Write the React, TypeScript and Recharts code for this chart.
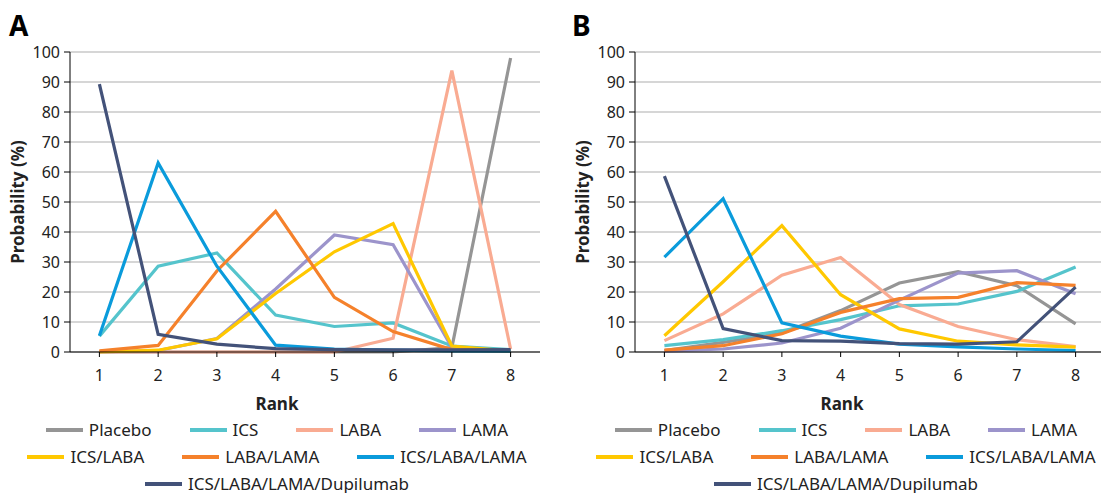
import React from "react"
import { LineChart, Line, XAxis, YAxis, CartesianGrid } from "recharts"

const ranks = ["1", "2", "3", "4", "5", "6", "7", "8"]
const yTicks = [0, 10, 20, 30, 40, 50, 60, 70, 80, 90, 100]

const seriesNames = [
  "Placebo",
  "ICS",
  "LABA",
  "LAMA",
  "ICS/LABA",
  "LABA/LAMA",
  "ICS/LABA/LAMA",
  "ICS/LABA/LAMA/Dupilumab",
]
const seriesColors = ["#959595", "#55c4cc", "#f9ab92", "#9c94cb", "#ffc800", "#f5812b", "#0a9bdb", "#435279"]

// legend rows as laid out in the figure
const legendRows = [
  ["Placebo", "ICS", "LABA", "LAMA"],
  ["ICS/LABA", "LABA/LAMA", "ICS/LABA/LAMA"],
  ["ICS/LABA/LAMA/Dupilumab"],
]

// Panel A values, per series, ranks 1..8
const placeboA = [0, 0, 0, 0, 0, 0, 1.5, 98]
const icsA = [5.3, 28.6, 33, 12.3, 8.5, 9.7, 2, 0.8]
const labaA = [0, 0, 0, 0, 0, 4.6, 93.8, 1]
const lamaA = [0, 0.5, 4.5, 21, 39, 35.8, 1.5, 0.3]
const icsLabaA = [0, 0.6, 4.4, 19.5, 33.4, 42.8, 2, 0.3]
const labaLamaA = [0.4, 2.2, 27, 46.9, 18.2, 6.8, 0.8, 0.3]
const tripleA = [5.4, 63, 28.6, 2.3, 1, 0.6, 0.4, 0.3]
const dupiA = [89.3, 5.9, 2.6, 1.1, 0.8, 0.7, 0.7, 0.8]

// Panel B values
const placeboB = [0.5, 3.2, 6.3, 13.8, 23, 26.8, 22.1, 9.4]
const icsB = [2.1, 4.1, 7.1, 10.8, 15.4, 16, 20.2, 28.3]
const labaB = [3.8, 12.7, 25.6, 31.5, 15.8, 8.5, 4.1, 1.8]
const lamaB = [0.3, 1, 3, 7.9, 17.3, 26.3, 27.1, 19.4]
const icsLabaB = [5.4, 23.4, 42.1, 19.1, 7.7, 3.6, 2.4, 1.6]
const labaLamaB = [0.6, 2.1, 6.1, 13.2, 17.8, 18.2, 23.1, 22.2]
const tripleB = [31.6, 51.1, 9.7, 5.3, 2.6, 1.7, 1, 0.5]
const dupiB = [58.6, 7.8, 3.8, 3.6, 2.8, 2.6, 3.4, 21.6]

const panelA = [placeboA, icsA, labaA, lamaA, icsLabaA, labaLamaA, tripleA, dupiA]
const panelB = [placeboB, icsB, labaB, lamaB, icsLabaB, labaLamaB, tripleB, dupiB]

const FONT = "'Noto Sans', sans-serif"

const buildRows = (series: number[][]) =>
  ranks.map((rank, i) => {
    const row: Record<string, any> = { rank }
    seriesNames.forEach((name, s) => {
      row[name] = series[s][i]
    })
    return row
  })

const RankChart = ({ series }: { series: number[][] }) => {
  const data = buildRows(series)
  return (
    <LineChart width={550} height={422} data={data} margin={{ top: 52, right: 10, bottom: 10, left: 10 }}>
      <CartesianGrid vertical={false} stroke="#c9c9c9" strokeWidth={1.5} />
      <XAxis
        dataKey="rank"
        padding={{ left: 29.4, right: 29.4 }}
        height={60}
        stroke="#000"
        tickSize={5}
        tickMargin={13}
        tick={{ fill: "#222", fontSize: 16, fontFamily: FONT }}
        label={{ value: "Rank", position: "insideBottom", offset: 2, dx: -28, fill: "#222", fontSize: 17, fontWeight: 700, fontFamily: FONT }}
      />
      <XAxis xAxisId="top" dataKey="rank" orientation="top" height={0} tick={false} tickLine={false} stroke="#000" />
      <YAxis
        domain={[0, 100]}
        ticks={yTicks}
        width={60}
        stroke="#000"
        tickSize={6}
        tickMargin={4}
        interval={0}
        tick={{ fill: "#222", fontSize: 16, fontFamily: FONT }}
        label={{
          value: "Probability (%)",
          angle: -90,
          position: "insideLeft",
          offset: 8,
          style: { textAnchor: "middle" },
          fill: "#222",
          fontSize: 17,
          fontWeight: 700,
          fontFamily: FONT,
        }}
      />
      <YAxis yAxisId="right" orientation="right" width={0} domain={[0, 100]} tick={false} tickLine={false} stroke="#000" />
      {seriesNames.map((name, s) => (
        <Line
          key={name}
          dataKey={name}
          stroke={seriesColors[s]}
          strokeWidth={3.2}
          dot={false}
          strokeLinejoin="miter"
          isAnimationActive={false}
        />
      ))}
    </LineChart>
  )
}

const LegendBlock = ({ center }: { center: number }) => (
  <div style={{ position: "absolute", left: center - 300, top: 416, width: 600, fontFamily: FONT, fontSize: 17, lineHeight: "18px", color: "#222" }}>
    {legendRows.map((row, r) => (
      <div key={r} style={{ display: "flex", justifyContent: "center", gap: 38, height: 27, alignItems: "center" }}>
        {row.map((name) => (
          <div key={name} style={{ display: "flex", alignItems: "center", whiteSpace: "nowrap" }}>
            <span style={{ display: "inline-block", width: 37, height: 4, background: seriesColors[seriesNames.indexOf(name)], marginRight: 6 }} />
            <span>{name}</span>
          </div>
        ))}
      </div>
    ))}
  </div>
)

export default function App() {
  return (
    <div style={{ position: "absolute", left: 0, top: 0, width: 1101, height: 493, overflow: "hidden", background: "#fff" }}>
      <div style={{ position: "absolute", left: 9, top: 6, fontFamily: FONT, fontWeight: 700, fontSize: 28, color: "#000" }}>A</div>
      <div style={{ position: "absolute", left: 572, top: 6, fontFamily: FONT, fontWeight: 700, fontSize: 28, color: "#000" }}>B</div>
      <div style={{ position: "absolute", left: 0, top: 0 }}>
        <RankChart series={panelA} />
      </div>
      <div style={{ position: "absolute", left: 565, top: 0 }}>
        <RankChart series={panelB} />
      </div>
      <LegendBlock center={277} />
      <LegendBlock center={846} />
    </div>
  )
}
